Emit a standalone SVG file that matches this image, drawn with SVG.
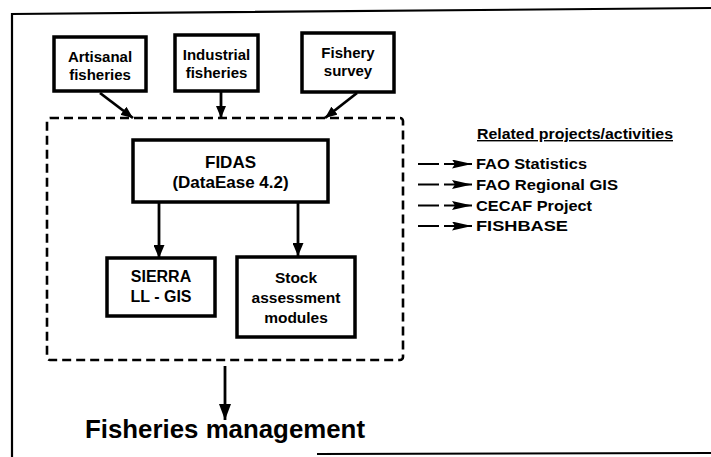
<svg xmlns="http://www.w3.org/2000/svg" width="711" height="457" viewBox="0 0 711 457">
<style>
text{font-family:"Liberation Sans",Arial,sans-serif;font-weight:bold;fill:#000;text-anchor:middle}
.box{fill:#fff;stroke:#000;stroke-width:3.5}
.dash{fill:none;stroke:#000;stroke-width:2.6;stroke-dasharray:9 5}
.ln{stroke:#000;stroke-width:2.8;fill:none}
.rl{stroke:#000;stroke-width:2;fill:none}
.frame{stroke:#000;stroke-width:2.2;fill:none}
.l{text-anchor:start}
</style>
<defs>
<marker id="ah" markerUnits="userSpaceOnUse" markerWidth="12" markerHeight="10" refX="12" refY="5" orient="auto"><path d="M0,0 L12,5 L0,10 z" fill="#000"/></marker>
<marker id="ahm" markerUnits="userSpaceOnUse" markerWidth="13" markerHeight="11" refX="13" refY="5.5" orient="auto"><path d="M0,0 L13,5.5 L0,11 z" fill="#000"/></marker>
<marker id="ahb" markerUnits="userSpaceOnUse" markerWidth="16" markerHeight="12" refX="16" refY="6" orient="auto"><path d="M0,0 L16,6 L0,12 z" fill="#000"/></marker>
<marker id="ahr" markerUnits="userSpaceOnUse" markerWidth="20" markerHeight="9" refX="20" refY="4.5" orient="auto"><path d="M0,0 L20,4.5 L0,9 L3,4.5 z" fill="#000"/></marker>
</defs>
<rect width="711" height="457" fill="#fff"/>
<g id="frame">
<path class="frame" d="M12,457 L12,14 L711,8"/>
<path class="frame" d="M317,454 L711,453"/>
</g>
<g id="connectors">
<line class="ln" x1="100" y1="93" x2="133" y2="118" marker-end="url(#ah)"/>
<line class="ln" x1="221" y1="92" x2="221" y2="118" marker-end="url(#ah)"/>
<line class="ln" x1="357" y1="93" x2="325" y2="118" marker-end="url(#ah)"/>
<line class="ln" x1="159" y1="203" x2="159" y2="258" marker-end="url(#ahm)"/>
<line class="ln" x1="298" y1="203" x2="298" y2="256" marker-end="url(#ahm)"/>
<line class="ln" x1="225" y1="366" x2="225" y2="420" marker-end="url(#ahb)"/>
<g id="related-arrows">
<line class="rl" x1="418" y1="164" x2="439" y2="164"/><line class="rl" x1="444" y1="164" x2="472" y2="164" marker-end="url(#ahr)"/>
<line class="rl" x1="418" y1="184.5" x2="439" y2="184.5"/><line class="rl" x1="444" y1="184.5" x2="472" y2="184.5" marker-end="url(#ahr)"/>
<line class="rl" x1="418" y1="205.5" x2="439" y2="205.5"/><line class="rl" x1="444" y1="205.5" x2="472" y2="205.5" marker-end="url(#ahr)"/>
<line class="rl" x1="418" y1="226" x2="439" y2="226"/><line class="rl" x1="444" y1="226" x2="472" y2="226" marker-end="url(#ahr)"/>
</g>
</g>
<g id="container">
<rect class="dash" x="47" y="118" width="356" height="242" rx="3"/>
</g>
<g id="artisanal">
<rect class="box" x="54" y="37" width="92" height="54"/>
<text x="100" y="62" font-size="15">Artisanal</text>
<text x="100" y="80" font-size="15">fisheries</text>
</g>
<g id="industrial">
<rect class="box" x="175" y="35" width="83" height="56"/>
<text x="216.5" y="60" font-size="15">Industrial</text>
<text x="216.5" y="78" font-size="15">fisheries</text>
</g>
<g id="fishery-survey">
<rect class="box" x="302" y="33" width="92" height="59"/>
<text x="348" y="58" font-size="15">Fishery</text>
<text x="348" y="76" font-size="15">survey</text>
</g>
<g id="fidas">
<rect class="box" x="133" y="140" width="195" height="62"/>
<text x="230.5" y="168" font-size="17">FIDAS</text>
<text x="230.5" y="188" font-size="17">(DataEase 4.2)</text>
</g>
<g id="sierra">
<rect class="box" x="107" y="258" width="108" height="58"/>
<text x="161" y="282" font-size="16">SIERRA</text>
<text x="161" y="302" font-size="16">LL - GIS</text>
</g>
<g id="stock">
<rect class="box" x="237" y="257" width="118" height="80"/>
<text x="296" y="283" font-size="15.5">Stock</text>
<text x="296" y="303" font-size="15.5">assessment</text>
<text x="296" y="323" font-size="15.5">modules</text>
</g>
<g id="management">
<text x="225" y="438" font-size="25" textLength="280" lengthAdjust="spacingAndGlyphs">Fisheries management</text>
</g>
<g id="related">
<text class="l" x="477" y="139" font-size="14" text-decoration="underline" textLength="196" lengthAdjust="spacingAndGlyphs">Related projects/activities</text>
<text class="l" x="476" y="169" font-size="15.5" textLength="111" lengthAdjust="spacingAndGlyphs">FAO Statistics</text>
<text class="l" x="476" y="189.5" font-size="15.5" textLength="142" lengthAdjust="spacingAndGlyphs">FAO Regional GIS</text>
<text class="l" x="476" y="210.5" font-size="15.5" textLength="116" lengthAdjust="spacingAndGlyphs">CECAF Project</text>
<text class="l" x="476" y="231" font-size="15.5" textLength="92" lengthAdjust="spacingAndGlyphs">FISHBASE</text>
</g>
</svg>
